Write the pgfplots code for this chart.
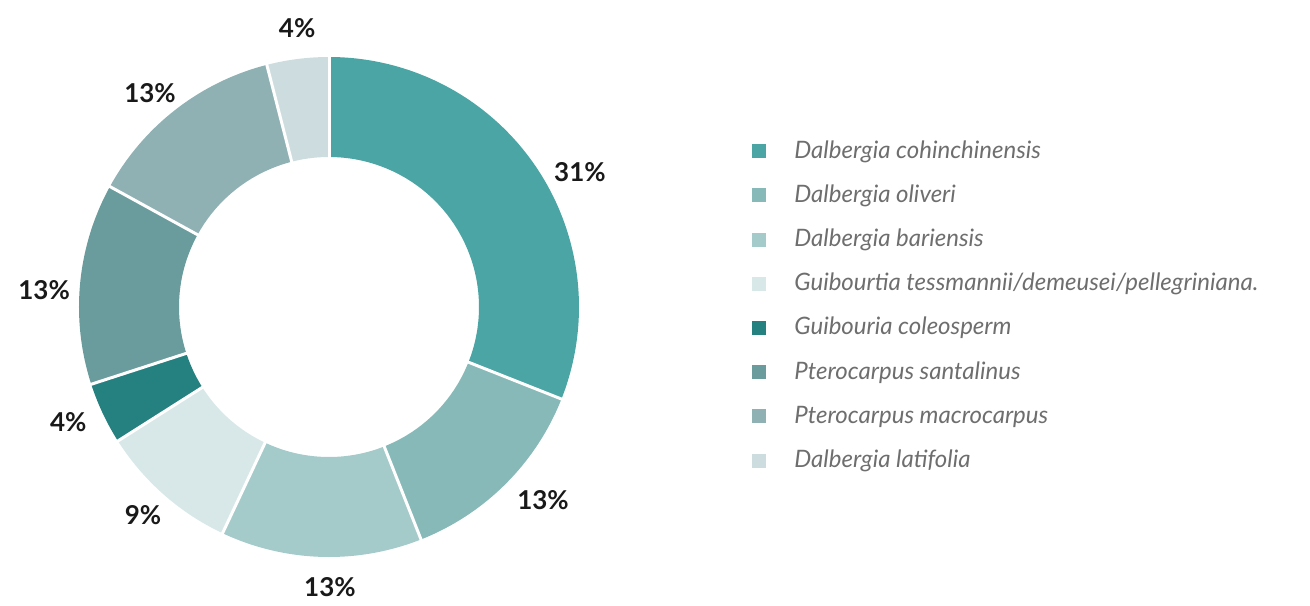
\documentclass[border=0pt]{standalone}
\usepackage{pgfplots}
\pgfplotsset{compat=1.18}
\usepgfplotslibrary{polar}
\usepackage{fontspec}
\setmainfont{Lato}
\definecolor{c1}{HTML}{4BA5A5}
\definecolor{c2}{HTML}{86B9B7}
\definecolor{c3}{HTML}{A5CACA}
\definecolor{c4}{HTML}{D8E8E8}
\definecolor{c5}{HTML}{258080}
\definecolor{c6}{HTML}{6A9C9D}
\definecolor{c7}{HTML}{8FB1B4}
\definecolor{c8}{HTML}{CDDDDF}
\definecolor{legtext}{HTML}{6E6E6E}
\begin{document}
\begin{tikzpicture}
\path[use as bounding box] (0,0) rectangle (655pt,302.5pt);
\begin{polaraxis}[
  at={(164.5pt,149pt)}, anchor=center,
  scale only axis, width=250pt, height=250pt,
  xmin=0, xmax=360, ymin=0, ymax=125,
  hide axis, clip=false,
  legend image code/.code={\fill[#1, draw=none, line width=0pt] (0pt,-3.5pt) rectangle (7pt,3.5pt);},
  legend cell align=left,
  legend style={at={(1.346,0.834)}, anchor=north west, draw=none, fill=none,
    inner sep=0pt, row sep=11.3pt,
    font=\itshape\fontsize{12}{14}\selectfont,
    text=legtext,
    nodes={text height=8.8pt, text depth=2pt, inner sep=0pt},
    /tikz/every odd column/.append style={column sep=14pt}},
]
\addplot[c1, line width=50pt, domain=-21.6:90, samples=90] {100};
\addlegendentry{Dalbergia cohinchinensis}
\addplot[c2, line width=50pt, domain=-68.4:-21.6, samples=40] {100};
\addlegendentry{Dalbergia oliveri}
\addplot[c3, line width=50pt, domain=-115.2:-68.4, samples=40] {100};
\addlegendentry{Dalbergia bariensis}
\addplot[c4, line width=50pt, domain=-147.6:-115.2, samples=30] {100};
\addlegendentry{Guibourtia tessmannii/demeusei/pellegriniana.}
\addplot[c5, line width=50pt, domain=-162:-147.6, samples=15] {100};
\addlegendentry{Guibouria coleosperm}
\addplot[c6, line width=50pt, domain=-208.8:-162, samples=40] {100};
\addlegendentry{Pterocarpus santalinus}
\addplot[c7, line width=50pt, domain=-255.6:-208.8, samples=40] {100};
\addlegendentry{Pterocarpus macrocarpus}
\addplot[c8, line width=50pt, domain=-270:-255.6, samples=15] {100};
\addlegendentry{Dalbergia latifolia}
% separators
\addplot[white, line width=1.5pt, forget plot] coordinates {(90,72) (90,128)};
\addplot[white, line width=1.5pt, forget plot] coordinates {(-21.6,72) (-21.6,128)};
\addplot[white, line width=1.5pt, forget plot] coordinates {(-68.4,72) (-68.4,128)};
\addplot[white, line width=1.5pt, forget plot] coordinates {(-115.2,72) (-115.2,128)};
\addplot[white, line width=1.5pt, forget plot] coordinates {(-147.6,72) (-147.6,128)};
\addplot[white, line width=1.5pt, forget plot] coordinates {(-162,72) (-162,128)};
\addplot[white, line width=1.5pt, forget plot] coordinates {(-208.8,72) (-208.8,128)};
\addplot[white, line width=1.5pt, forget plot] coordinates {(-255.6,72) (-255.6,128)};
% labels
\addplot[forget plot, draw=none, mark=none, nodes near coords,
  point meta=explicit symbolic,
  every node near coord/.style={anchor=center, inner sep=0pt,
    font=\bfseries\fontsize{13}{15}\selectfont, text=black!90}]
  coordinates {
  (28.3,142.5) [31\%]
  (-42.0,144) [13\%]
  (-89.8,140) [13\%]
  (-131.8,139.5) [9\%]
  (-156.2,142.5) [4\%]
  (176.6,142.7) [13\%]
  (129.9,139.5) [13\%]
  (96.5,140.5) [4\%]
  };
\end{polaraxis}
\end{tikzpicture}
\end{document}
